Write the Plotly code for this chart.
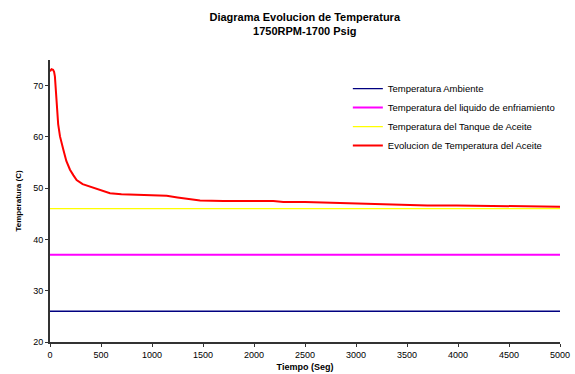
import plotly.graph_objects as go

title_text = "Diagrama Evolucion de Temperatura<br>1750RPM-1700 Psig"
x_title = "Tiempo (Seg)"
y_title = "Temperatura (C)"

series_names = [
    "Temperatura Ambiente",
    "Temperatura del liquido de enfriamiento",
    "Temperatura del Tanque de Aceite",
    "Evolucion de Temperatura del Aceite",
]

time_span = [0, 5000]
ambient_temp = [26, 26]
coolant_temp = [37, 37]
tank_temp = [46, 46]

oil_time = [0, 15, 30, 40, 48, 55, 65, 80, 98, 115, 131, 160, 196, 230, 261, 320,
            392, 480, 588, 700, 882, 1046, 1144, 1250, 1340, 1471, 1700, 2000,
            2190, 2288, 2500, 2843, 3170, 3497, 3700, 3987, 4400, 4902, 5000]
oil_temp = [72.8, 73.2, 73.1, 72.7, 71.8, 69.5, 65.3, 62.5, 60.1, 58.6, 57.5, 55.3,
            53.6, 52.5, 51.6, 50.8, 50.3, 49.6, 49.0, 48.8, 48.7, 48.6, 48.5, 48.2,
            47.9, 47.6, 47.5, 47.5, 47.5, 47.3, 47.3, 47.1, 46.9, 46.7, 46.6, 46.6,
            46.5, 46.4, 46.4]

x_ticks = [0, 500, 1000, 1500, 2000, 2500, 3000, 3500, 4000, 4500, 5000]
y_ticks = [20, 30, 40, 50, 60, 70]

colors = ["#000080", "#FF00FF", "#FFFF00", "#FF0000"]
widths = [1.3, 2, 1.3, 2]

fig = go.Figure()
fig.add_trace(go.Scatter(x=time_span, y=ambient_temp, mode="lines", name=series_names[0],
                         line=dict(color=colors[0], width=widths[0])))
fig.add_trace(go.Scatter(x=time_span, y=coolant_temp, mode="lines", name=series_names[1],
                         line=dict(color=colors[1], width=widths[1])))
fig.add_trace(go.Scatter(x=time_span, y=tank_temp, mode="lines", name=series_names[2],
                         line=dict(color=colors[2], width=widths[2])))
fig.add_trace(go.Scatter(x=oil_time, y=oil_temp, mode="lines", name=series_names[3],
                         line=dict(color=colors[3], width=widths[3])))

font_family = "Liberation Sans, Arial, sans-serif"

fig.update_layout(
    width=575, height=374,
    margin=dict(l=50, r=15, t=60, b=32),
    paper_bgcolor="white", plot_bgcolor="white",
    font=dict(family=font_family, size=9, color="#000000"),
    title=dict(text="<b>" + title_text + "</b>", x=0.53, xanchor="center",
               y=0.944, yanchor="top", font=dict(size=11)),
    showlegend=True,
    legend=dict(x=0.584, y=0.95, xanchor="left", yanchor="top",
                bgcolor="rgba(0,0,0,0)", font=dict(size=9.5), itemwidth=30,
                tracegroupgap=0),
    xaxis=dict(range=time_span, tickvals=x_ticks, showgrid=False, zeroline=False,
               showline=True, linecolor="#333333", linewidth=2, ticks="outside",
               ticklen=3, tickcolor="#333333", automargin=False,
               title=dict(text="<b>" + x_title + "</b>", standoff=5, font=dict(size=9))),
    yaxis=dict(range=[20, 75], tickvals=y_ticks, showgrid=False, zeroline=False,
               showline=True, linecolor="#333333", linewidth=2, ticks="outside",
               ticklen=3, tickcolor="#333333", automargin=False,
               title=dict(text="<b>" + y_title + "</b>", standoff=10, font=dict(size=8))),
)

fig.write_html("out.html")
